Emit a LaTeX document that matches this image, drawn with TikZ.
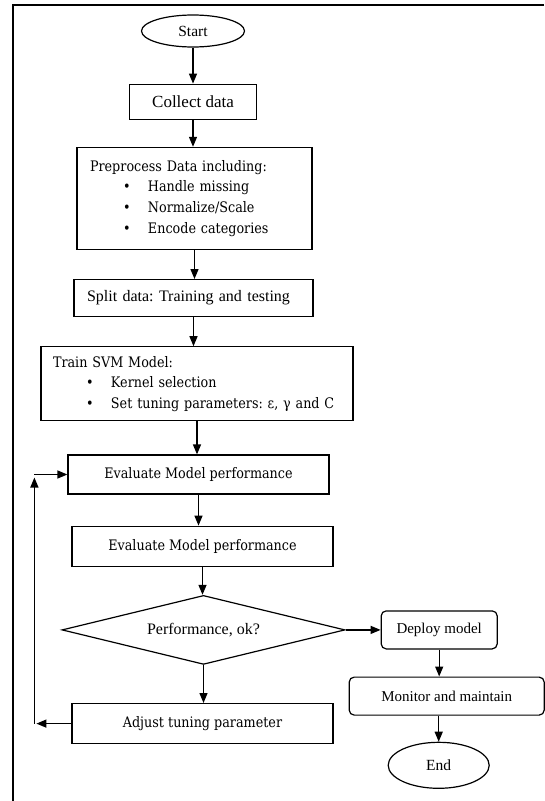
\documentclass[tikz,border=0pt]{standalone}
\usepackage{fontspec}
\setmainfont{Liberation Serif}
\newfontfamily\cambria[FakeStretch=0.88]{DejaVu Serif}
\usetikzlibrary{arrows.meta, positioning, shapes.geometric}
\frenchspacing

% one bullet line inside a box
\newcommand{\bitem}[1]{\hspace*{33pt}\makebox[25pt][l]{\textbullet}#1}

\begin{document}
\begin{tikzpicture}[x=1pt, y=-1pt,
    box/.style={rectangle, draw, line width=1.2pt, inner sep=0pt, font=\fontsize{16}{19}\selectfont},
    cbox/.style={box, font=\cambria\fontsize{14.5}{20.7}\selectfont},
    listbox/.style={cbox, align=left, inner xsep=13pt},
    roundbox/.style={box, rounded corners=5pt, font=\fontsize{15}{18}\selectfont},
    term/.style={ellipse, draw, line width=1.2pt, inner sep=0pt, font=\fontsize{15.5}{18}\selectfont},
    decision/.style={diamond, draw, line width=1.2pt, inner sep=0pt, aspect=4.1, font=\fontsize{16}{19}\selectfont},
    arrow/.style={-{Triangle[length=10pt, width=8pt]}, line width=1.3pt}]

    \useasboundingbox (0,0) rectangle (544,801);

    % Frame
    \draw[line width=1.6pt] (544,5) -- (13,5) -- (13,801);

    % Nodes
    \node[term, minimum width=103pt, minimum height=32pt] (start) at (193,31) {Start};
    \node[box, minimum width=127pt, minimum height=35pt, font=\fontsize{17}{20}\selectfont, below=36pt of start] (collect) {Collect data};
    \node[listbox, text width=209pt, minimum height=102pt, below=27pt of collect, xshift=1.5pt] (prep)
        {Preprocess Data including:\\ \bitem{Handle missing}\\ \bitem{Normalize/Scale}\\ \bitem{Encode categories}};
    \node[box, align=left, text width=213pt, inner xsep=13pt, minimum height=37pt, below=29pt of prep, xshift=-1pt] (split)
        {Split data: Training and testing};
    \node[listbox, text width=288pt, inner xsep=12pt, minimum height=74pt, below=29pt of split, xshift=3.5pt] (train)
        {Train SVM Model:\\ \bitem{Kernel selection}\\ \bitem{Set tuning parameters: ε, γ and C}};
    \node[cbox, minimum width=261pt, minimum height=39pt, below=33pt of train, xshift=1.5pt] (eval) {Evaluate Model performance};
    \node[cbox, minimum width=261pt, minimum height=40pt, below=31pt of eval, xshift=4pt] (evaltwo) {Evaluate Model performance};
    \node[decision, minimum width=283pt, minimum height=69pt, below=28pt of evaltwo, xshift=1pt] (check) {Performance, ok?};
    \node[cbox, minimum width=261pt, minimum height=40pt, below=38pt of check, xshift=-1pt] (adjust) {Adjust tuning parameter};
    \node[roundbox, minimum width=116pt, minimum height=38pt, right=35pt of check] (deploy) {Deploy model};
    \node[roundbox, minimum width=195pt, minimum height=38pt, below=27pt of deploy, xshift=7.5pt] (monitor) {Monitor and maintain};
    \node[term, minimum width=101pt, minimum height=46pt, below=26pt of monitor, xshift=-8pt] (end) {End};

    % Arrows down the main column
    \foreach \a/\b in {start/collect, collect/prep, prep/split, split/train, train/eval,
                       eval/evaltwo, evaltwo/check, check/adjust, deploy/monitor}
        \draw[arrow] (\a.south) -- (\a.south |- \b.north);
    \draw[arrow] (end.north |- monitor.south) -- (end.north);
    \draw[arrow] (check.east) -- (check.east -| deploy.west);

    % Feedback loop back to the evaluation
    \coordinate[left=37pt of adjust.west] (loopbot);
    \coordinate (looptop) at (loopbot |- eval.west);
    \draw[arrow, shorten >=2pt] (adjust.west) -- (loopbot);
    \draw[arrow] (loopbot) -- ([yshift=-3pt]looptop);
    \draw[arrow] (looptop) -- (eval.west);

\end{tikzpicture}
\end{document}
